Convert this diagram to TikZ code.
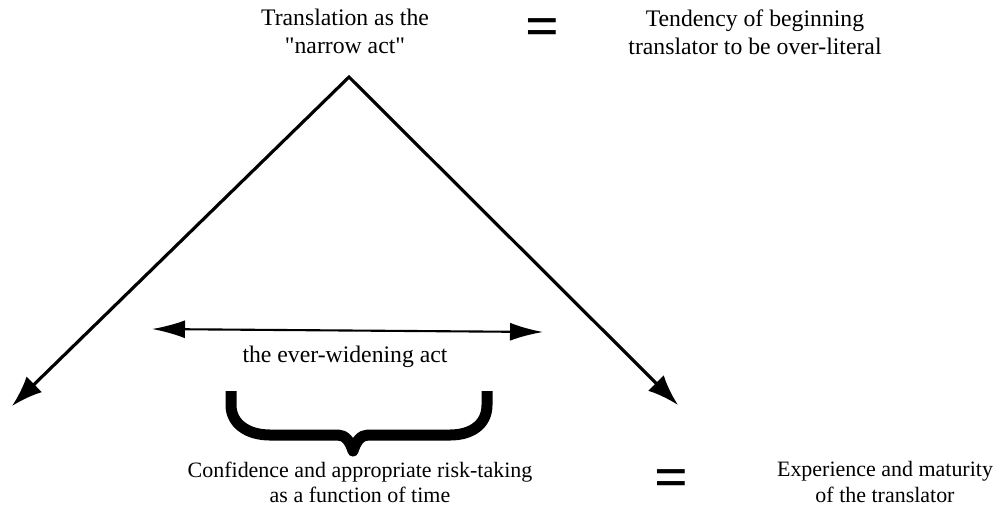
\documentclass[tikz,border=0pt]{standalone}
\usepackage{fontspec}
\setmainfont{Liberation Serif}
\usetikzlibrary{arrows.meta}

\begin{document}
\begin{tikzpicture}[x = 0.02cm, y = -0.02cm,
  txt/.style = {align = center, inner sep = 0, font = \fontsize{13.5}{16}\selectfont},
  txtlow/.style = {align = center, inner sep = 0, font = \fontsize{12.5}{14.3}\selectfont},
  equal/.style = {inner sep = 0, font = \fontsize{34}{34}\selectfont\bfseries},
  spread/.style = {line width = 1.8pt, line join = miter,
    {Latex[length = 0.62cm, width = 0.44cm]}-{Latex[length = 0.62cm, width = 0.44cm]}},
  widen/.style = {line width = 1.2pt,
    {Latex[length = 0.66cm, width = 0.36cm]}-{Latex[length = 0.66cm, width = 0.36cm]}}]
  \useasboundingbox (0, 0) rectangle (996, 512);

  \node[txt] (narrow) at (345, 31) {Translation as the\\\textquotedbl narrow act\textquotedbl};
  \node[equal] (eqtop) at (543, 33) {=};
  \node[txt] (literal) at (755, 32) {Tendency of beginning\\translator to be over-literal};

  \coordinate (apex) at (349, 77);
  \coordinate (tipL) at (12, 406);
  \coordinate (tipR) at (678, 405);
  \draw[spread] (tipL) -- (apex) -- (tipR);

  \coordinate (wideL) at (152, 329);
  \coordinate (wideR) at (543, 332);
  \draw[widen] (wideL) -- (wideR);
  \node[txt] (widening) at (345, 357) {the ever-widening act};

  % brace
  \draw[line width = 0.22cm, line join = round]
  (231, 391) -- (231, 405) .. controls (231, 424) and (248, 435) .. (270, 435)
  -- (338, 435) .. controls (345, 435) and (350, 441) .. (353, 451)
  .. controls (356, 441) and (361, 435) .. (368, 435)
  -- (450, 435) .. controls (472, 435) and (487, 424) .. (487, 405) -- (487, 391);

  \node[txtlow] (confidence) at (360, 482) {Confidence and appropriate risk-taking\\as a function of time};
  \node[equal] (eqlow) at (672, 484) {=};
  \node[txtlow] (maturity) at (885, 482) {Experience and maturity\\of the translator};
\end{tikzpicture}
\end{document}
